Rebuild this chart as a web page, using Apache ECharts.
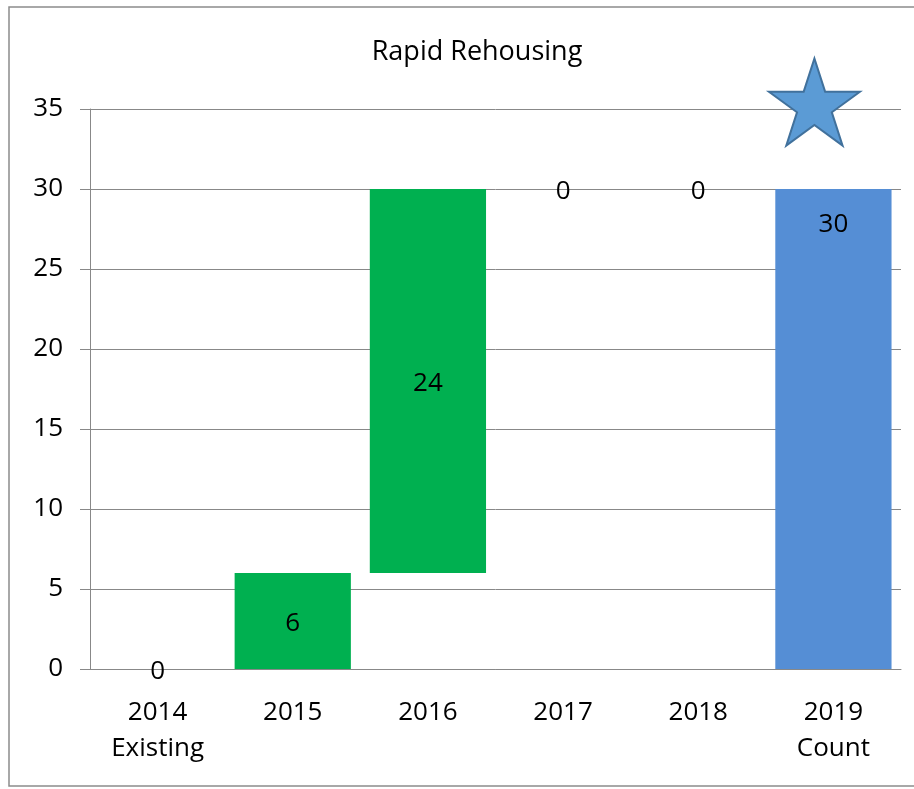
<!DOCTYPE html>
<html>
<head>
<meta charset="utf-8">
<script src="https://cdn.jsdelivr.net/npm/echarts@6/dist/echarts.min.js"></script>
<style>
  html, body { margin: 0; padding: 0; background: #fff; }
  #chart { width: 914px; height: 789px; }
</style>
</head>
<body>
<div id="chart"></div>
<script>
// waterfall data
const categories = ['2014\nExisting', '2015', '2016', '2017', '2018', '2019\nCount'];
const offsets = [0, 0, 6, 30, 30, 0];      // invisible base under each bar
const changes = [0, 6, 24, 0, 0, 30];      // visible bar heights
const yTicks = { min: 0, max: 35, interval: 5 };
const starMark = ['2019\nCount', 35];      // star sits just above the top of the axis

const green = '#00b050';
const blue = '#558ed5';
const grey = '#888888';
const font = '"Open Sans", sans-serif';

const starPath = 'path://M50,0 L61.23,34.55 L97.55,34.55 L68.17,55.9 L79.39,90.45 L50,69.1 L20.61,90.45 L31.83,55.9 L2.45,34.55 L38.77,34.55 Z';

const options = {
    animation: false,
    title: {
        text: 'Rapid Rehousing',
        left: 472,
        textAlign: 'center',
        top: 34,
        textStyle: { fontFamily: font, fontSize: 27, fontWeight: 'normal', color: '#000' }
    },
    grid: { left: 90, right: 13, top: 109, bottom: 120 },
    xAxis: {
        type: 'category',
        data: categories,
        axisLine: { lineStyle: { color: grey } },
        axisTick: { length: 11, lineStyle: { color: grey } },
        axisLabel: { fontFamily: font, fontSize: 26, color: '#000', margin: 26, lineHeight: 36 }
    },
    yAxis: {
        type: 'value',
        min: yTicks.min,
        max: yTicks.max,
        interval: yTicks.interval,
        axisLine: { show: true, lineStyle: { color: grey } },
        axisTick: { show: true, length: 10, lineStyle: { color: grey } },
        axisLabel: { fontFamily: font, fontSize: 26, color: '#000', margin: 27 },
        splitLine: { lineStyle: { color: grey } }
    },
    series: [
        {
            type: 'bar',
            stack: 'w',
            silent: true,
            itemStyle: { color: 'transparent' },
            data: offsets
        },
        {
            type: 'bar',
            stack: 'w',
            barWidth: '86%',
            data: changes.map((v, i) => ({
                value: v,
                itemStyle: { color: i === changes.length - 1 ? blue : green },
                label: i === changes.length - 1 ? { position: 'insideTop', distance: 20 } : {}
            })),
            label: {
                show: true,
                position: 'inside',
                offset: [0, 3],
                fontFamily: font,
                fontSize: 26,
                color: '#000'
            },
            markPoint: {
                symbol: starPath,
                symbolSize: [91, 87],
                symbolOffset: [-19, -7],
                itemStyle: { color: '#5b9bd5', borderColor: '#41719c', borderWidth: 2 },
                label: { show: false },
                data: [{ coord: starMark }]
            }
        }
    ],
    graphic: [{
        type: 'rect',
        shape: { x: 9, y: 7, width: 1000, height: 779 },
        style: { fill: 'none', stroke: '#8c8c8c', lineWidth: 1.5 },
        silent: true
    }]
};

const E = echarts.init(document.getElementById('chart'));
window.onresize = function () {
    E.resize();
};
E.setOption(options);
</script>
</body>
</html>
